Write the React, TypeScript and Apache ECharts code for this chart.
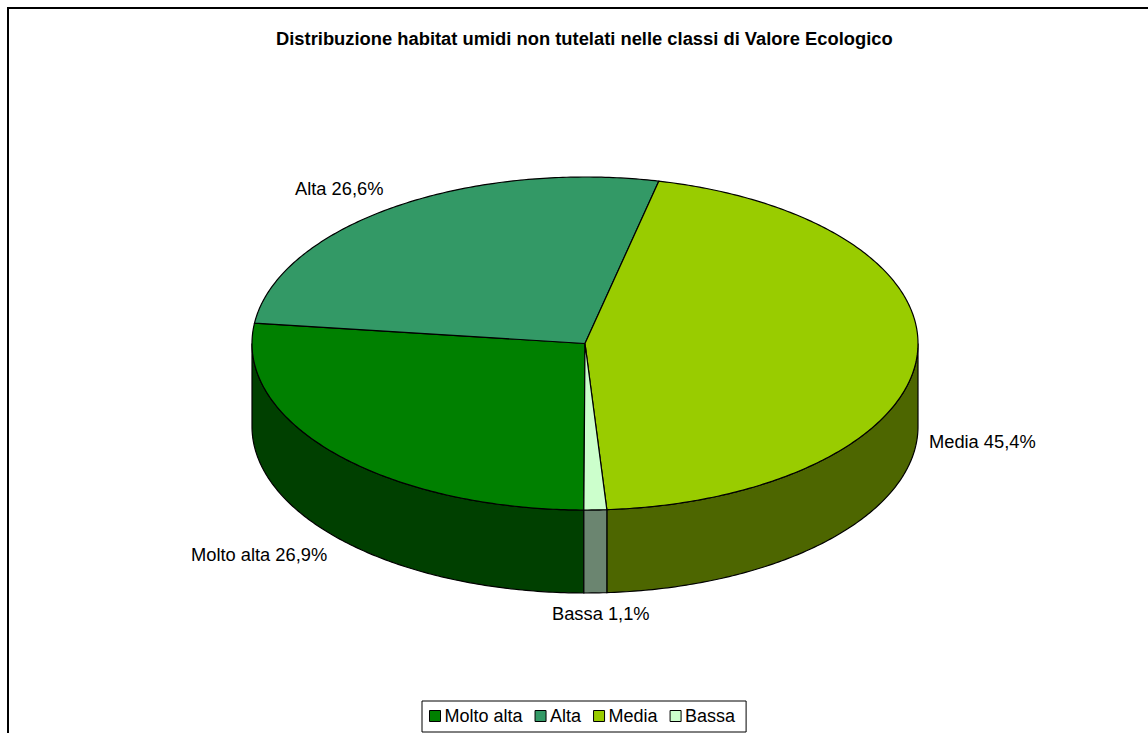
import React, { useEffect, useRef } from "react";
import * as echarts from "echarts";

const TITLE = "Distribuzione habitat umidi non tutelati nelle classi di Valore Ecologico";
const categories = ["Molto alta", "Alta", "Media", "Bassa"];
const shares = [26.9, 26.6, 45.4, 1.1];
const topColors = ["#008000", "#339966", "#99CC00", "#CCFFCC"];
const sideColors = ["#004000", "#1A4D33", "#4D6600", "#6B8570"];

const CX = 585;
const CY = 343.5;
const RX = 333;
const RY = 166.5;
const DEPTH = 83;
const START_DEG = 180.2;
const FONT = "Liberation Sans, Arial, sans-serif";
const labelAnchors = [
  { x: 191, y: 554 },
  { x: 295, y: 188 },
  { x: 929, y: 441 },
  { x: 552, y: 613 },
];

const pt = (deg: number, dy = 0): number[] => {
  const a = (deg * Math.PI) / 180;
  return [CX + RX * Math.sin(a), CY - RY * Math.cos(a) + dy];
};

const arcPoints = (from: number, to: number, dy = 0): number[][] => {
  const steps = Math.max(2, Math.ceil((to - from) * 1.5));
  const out: number[][] = [];
  for (let i = 0; i <= steps; i++) out.push(pt(from + ((to - from) * i) / steps, dy));
  return out;
};

const sliceSeries = (index: number) => {
  const total = shares.reduce((s, v) => s + v, 0);
  const before = shares.slice(0, index).reduce((s, v) => s + v, 0);
  return {
    type: "custom",
    name: categories[index],
    coordinateSystem: "none",
    silent: true,
    itemStyle: { color: topColors[index], borderColor: "#000", borderWidth: 1 },
    data: [shares[index]],
    renderItem: (_p: unknown, api: any) => {
      const value = api.value(0) as number;
      const from = START_DEG + (before / total) * 360;
      const to = from + (value / total) * 360;
      const children: any[] = [];
      // The front wall spans 90..270 degrees, in either the first or the next turn
      for (const shift of [0, 360]) {
        const a = Math.max(from, 90 + shift);
        const b = Math.min(to, 270 + shift);
        if (b > a) {
          const points = [...arcPoints(a, b), ...arcPoints(a, b, DEPTH).reverse()];
          children.push({
            type: "polygon",
            shape: { points },
            style: { fill: sideColors[index], stroke: "#000", lineWidth: 1.2 },
          });
        }
      }
      children.push({
        type: "polygon",
        shape: { points: [[CX, CY], ...arcPoints(from, to)] },
        style: { fill: topColors[index], stroke: "#000", lineWidth: 1.2 },
      });
      children.push({
        type: "text",
        x: labelAnchors[index].x,
        y: labelAnchors[index].y,
        style: {
          text: `${categories[index]} ${value.toFixed(1).replace(".", ",")}%`,
          fill: "#000",
          font: `18.3px ${FONT}`,
          align: "left",
          verticalAlign: "middle",
        },
      });
      return { type: "group", children };
    },
  };
};

export default function App() {
  const ref = useRef<HTMLDivElement>(null);
  useEffect(() => {
    const chart = echarts.init(ref.current!, undefined, { renderer: "svg" });
    chart.setOption({
      animation: false,
      backgroundColor: "#fff",
      title: {
        text: TITLE,
        left: 276,
        top: 29,
        padding: 0,
        textStyle: { fontFamily: FONT, fontSize: 18.35, fontWeight: "bold", color: "#000" },
      },
      legend: {
        data: categories,
        left: 422,
        top: 701,
        orient: "horizontal",
        icon: "rect",
        itemWidth: 11,
        itemHeight: 11,
        itemGap: 12,
        padding: [6, 11, 7, 7],
        backgroundColor: "#fff",
        borderColor: "#000",
        borderWidth: 1,
        selectedMode: false,
        itemStyle: { borderColor: "#000", borderWidth: 1 },
        textStyle: { fontFamily: FONT, fontSize: 18, color: "#000", padding: [0, 0, 0, -1] },
      },
      graphic: [
        {
          type: "polyline",
          silent: true,
          shape: { points: [[8, 733], [8, 8], [1148, 8]] },
          style: { fill: "none", stroke: "#000", lineWidth: 2 },
        },
      ],
      series: categories.map((_, i) => sliceSeries(i)),
    });
    return () => chart.dispose();
  }, []);
  return <div ref={ref} style={{ position: "fixed", left: 0, top: 0, width: 1148, height: 733 }} />;
}
